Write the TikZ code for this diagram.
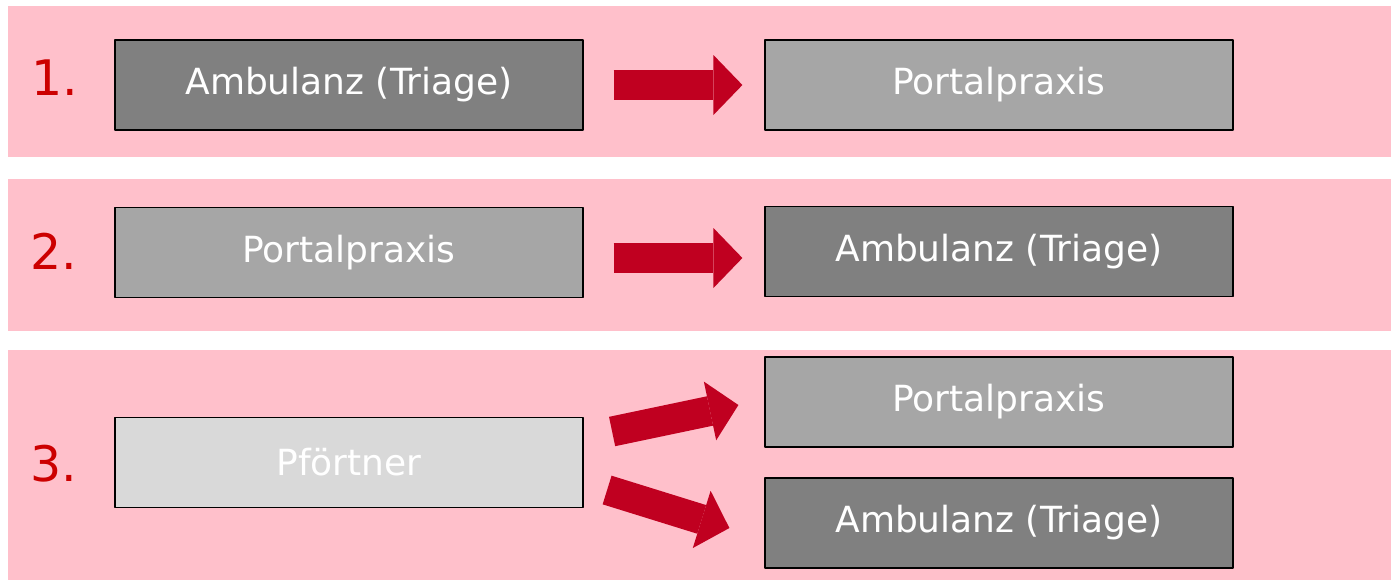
\documentclass[tikz,border=0pt]{standalone}
\usepackage{fontspec}
\setmainfont{DejaVu Sans}
\usepackage{tikz}
\usetikzlibrary{calc}
\usetikzlibrary{arrows.meta}
\definecolor{bandpink}{rgb}{1.,0.7529,0.7961}
\definecolor{arrowred}{rgb}{0.7529,0.,0.1255}
\definecolor{numred}{rgb}{0.8,0.,0.}
\definecolor{darkbox}{rgb}{0.502,0.502,0.502}
\definecolor{midbox}{rgb}{0.651,0.651,0.651}
\definecolor{lightbox}{rgb}{0.851,0.851,0.851}
\tikzstyle{every node}=[font=\fontsize{18}{22}\selectfont]

\begin{document}
\begin{tikzpicture}[line join=round,x=0.5pt,y=-0.5pt,
    box/.style={draw=black,line width=0.6pt,minimum width=234pt,minimum height=45pt,inner sep=0pt,text=white},
    num/.style={anchor=base west,inner sep=0pt,text=numred,font=\fontsize{24.5}{30}\selectfont},
    blockarrow/.style={line width=15pt,color=arrowred,-{Triangle[length=14.5pt,width=30pt,line width=0pt]}}]
                    \useasboundingbox (0,0) rectangle (1391,580);
                    \fill[bandpink] (8,6) rectangle (1391,157);
                    \fill[bandpink] (8,179) rectangle (1391,331);
                    \fill[bandpink] (8,350) rectangle (1391,580);

                    % 1.
                    \node[num] (n1) at (31,95) {1.};
                    \node[box,fill=darkbox] (amb1) at (349,85) {Ambulanz (Triage)};
                    \node[box,fill=midbox] (port1) at (999,85) {Portalpraxis};
                    \draw[blockarrow] ($(amb1.east)+(30,0)$) -- ($(port1.west)+(-22,0)$);

                    % 2.
                    \node[num] (n2) at (30,269) {2.};
                    \node[box,fill=midbox] (port2) at (349,252.5) {Portalpraxis};
                    \node[box,fill=darkbox] (amb2) at (999,251.5) {Ambulanz (Triage)};
                    \draw[blockarrow] ($(port2.east)+(30,5.5)$) -- ($(amb2.west)+(-22,6.5)$);

                    % 3.
                    \node[num] (n3) at (30,481) {3.};
                    \node[box,fill=lightbox] (pfo3) at (349,462.5) {Pförtner};
                    \node[box,fill=midbox] (port3) at (999,402) {Portalpraxis};
                    \node[box,fill=darkbox] (amb3) at (999,523) {Ambulanz (Triage)};
                    \draw[blockarrow] ($(pfo3.east)+(28.5,-31)$) -- ($(port3.west)+(-26,3)$);
                    \draw[blockarrow] ($(pfo3.east)+(23.5,27.5)$) -- ($(amb3.west)+(-35,5)$);
\end{tikzpicture}
\end{document}
